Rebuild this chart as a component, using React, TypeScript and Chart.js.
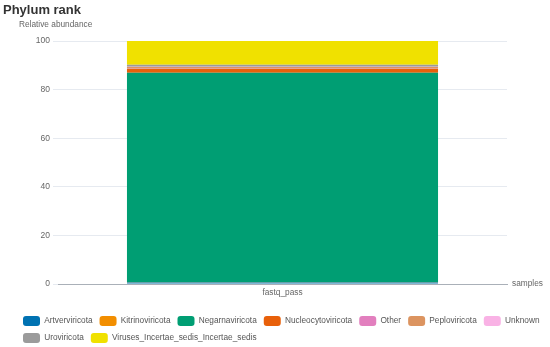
import React, { useEffect, useRef } from "react";
import { Chart, registerables } from "chart.js";

Chart.register(...registerables);

const categories = ["fastq_pass"];
const seriesNames = [
  "Artverviricota",
  "Kitrinoviricota",
  "Negarnaviricota",
  "Nucleocytoviricota",
  "Other",
  "Peploviricota",
  "Unknown",
  "Uroviricota",
  "Viruses_Incertae_sedis_Incertae_sedis",
];
const seriesValues = [0.6, 0.1, 86.2, 1.6, 0.05, 0.8, 0.05, 0.8, 9.8];
const seriesColors = [
  "#0072B2",
  "#F28E00",
  "#009E73",
  "#E8600A",
  "#E27FBE",
  "#DC9460",
  "#F9B2E5",
  "#9B9B9B",
  "#F0E100",
];
const yTicks = [0, 20, 40, 60, 80, 100];
const yAxisTitle = "Relative abundance";
const xAxisTitle = "samples";
const chartTitle = "Phylum rank";

const FONT = "'Liberation Sans', Arial, Helvetica, sans-serif";

export default function App() {
  const ref = useRef<HTMLCanvasElement | null>(null);
  useEffect(() => {
    document.body.style.margin = "0";
    if (!ref.current) return;
    const labelsPlugin = {
      id: "axisLabels",
      afterDraw(chart: any) {
        const { ctx, chartArea } = chart;
        ctx.save();
        ctx.textBaseline = "middle";
        ctx.textAlign = "left";
        ctx.font = `bold 13px ${FONT}`;
        ctx.fillStyle = "#333";
        ctx.fillText(chartTitle, 3, 10);
        ctx.font = `8.3px ${FONT}`;
        ctx.fillStyle = "#666";
        ctx.fillText(yAxisTitle, 19, chartArea.top - 16);
        ctx.fillText(xAxisTitle, chartArea.right + 5, chartArea.bottom);
        ctx.restore();
      },
    };
    const chart = new Chart(ref.current, {
      type: "bar",
      data: {
        labels: categories,
        datasets: seriesNames.map((n, i) => ({
          label: n,
          data: [seriesValues[i]],
          backgroundColor: seriesColors[i],
          borderWidth: 0,
          barPercentage: 0.866,
          categoryPercentage: 0.8,
        })),
      },
      options: {
        animation: false,
        responsive: false,
        maintainAspectRatio: false,
        layout: { padding: { left: 16, right: 0, top: 41, bottom: -6 } },
        plugins: {
          title: { display: false },
          legend: {
            position: "bottom",
            align: "start",
            labels: {
              boxWidth: 17,
              boxHeight: 10,
              padding: 7,
              color: "#555",
              font: { family: FONT, size: 8.3 },
              useBorderRadius: true,
              borderRadius: 3,
            },
          },
          tooltip: { enabled: false },
        },
        scales: {
          x: {
            stacked: true,
            grid: { display: false, drawTicks: false },
            border: { display: true, color: "#aab0b8", width: 1 },
            ticks: { color: "#666", font: { family: FONT, size: 8.3 }, padding: 4 },
            afterFit(axis: any) {
              axis.height = 25;
            },
          },
          y: {
            stacked: true,
            min: 0,
            max: 100,
            afterBuildTicks(axis: any) {
              axis.ticks = yTicks.map((v) => ({ value: v }));
            },
            grid: { color: "#e6eaf0", tickLength: 5, drawTicks: true },
            border: { display: false },
            ticks: { color: "#666", font: { family: FONT, size: 8.5 }, padding: 3 },
            afterFit(axis: any) {
              axis.width = 42;
            },
          },
          spacer: {
            type: "linear",
            position: "right",
            display: true,
            grid: { display: false, drawTicks: false },
            border: { display: false },
            ticks: { display: false },
            afterFit(axis: any) {
              axis.width = 43;
            },
          },
        },
      },
      plugins: [labelsPlugin],
    } as any);
    return () => chart.destroy();
  }, []);
  return <canvas ref={ref} width={550} height={347} style={{ display: "block" }} />;
}
